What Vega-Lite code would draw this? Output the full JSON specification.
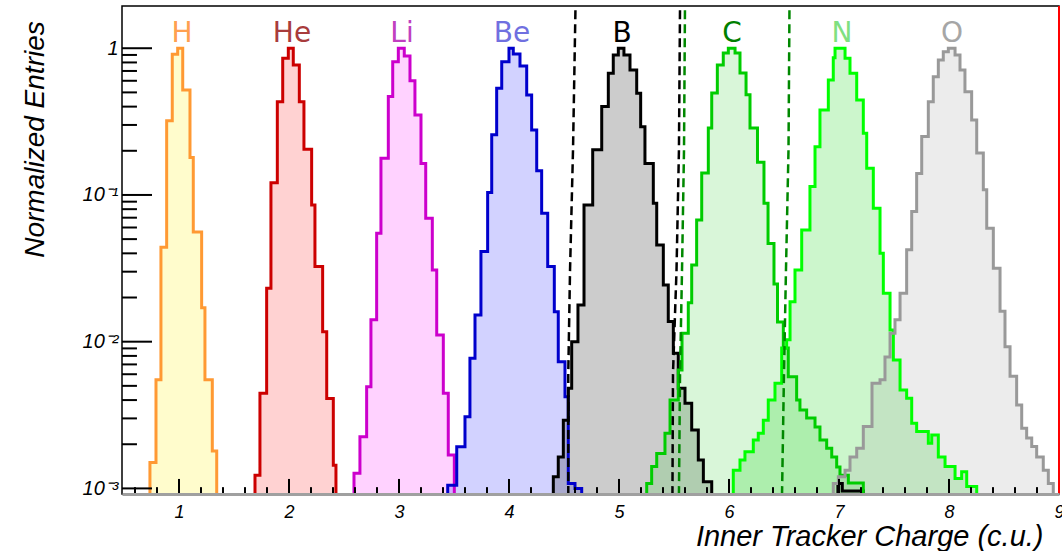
{
  "$schema": "https://vega.github.io/schema/vega-lite/v6.json",
  "width": 937,
  "height": 488,
  "autosize": {"type": "none"},
  "padding": {"left": 122, "top": 6, "right": 3, "bottom": 57},
  "background": "white",
  "config": {
    "view": {"stroke": "#000000", "strokeWidth": 1.5},
    "axis": {"grid": false}
  },
  "datasets": {
    "hist": [
      {"e":"H","x":0.686,"y":0.0009},{"e":"H","x":0.736,"y":0.0015},{"e":"H","x":0.791,"y":0.0055},{"e":"H","x":0.836,"y":0.044},{"e":"H","x":0.888,"y":0.32},{"e":"H","x":0.939,"y":0.91},{"e":"H","x":0.988,"y":1.0},{"e":"H","x":1.034,"y":0.52},{"e":"H","x":1.1,"y":0.18},{"e":"H","x":1.13,"y":0.056},{"e":"H","x":1.206,"y":0.017},{"e":"H","x":1.236,"y":0.0055},{"e":"H","x":1.303,"y":0.0018},{"e":"H","x":1.343,"y":0.0009},
      {"e":"He","x":1.64,"y":0.0009},{"e":"He","x":1.691,"y":0.00123},{"e":"He","x":1.736,"y":0.00445},{"e":"He","x":1.797,"y":0.0231},{"e":"He","x":1.836,"y":0.121},{"e":"He","x":1.894,"y":0.432},{"e":"He","x":1.943,"y":0.855},{"e":"He","x":1.994,"y":1.0},{"e":"He","x":2.039,"y":0.77},{"e":"He","x":2.094,"y":0.432},{"e":"He","x":2.136,"y":0.205},{"e":"He","x":2.206,"y":0.0855},{"e":"He","x":2.236,"y":0.0325},{"e":"He","x":2.306,"y":0.0117},{"e":"He","x":2.343,"y":0.0041},{"e":"He","x":2.403,"y":0.00144},{"e":"He","x":2.427,"y":0.0009},
      {"e":"Li","x":2.54,"y":0.0009},{"e":"Li","x":2.591,"y":0.00127},{"e":"Li","x":2.645,"y":0.00225},{"e":"Li","x":2.706,"y":0.00493},{"e":"Li","x":2.745,"y":0.0141},{"e":"Li","x":2.797,"y":0.0548},{"e":"Li","x":2.836,"y":0.178},{"e":"Li","x":2.903,"y":0.468},{"e":"Li","x":2.943,"y":0.81},{"e":"Li","x":2.994,"y":1.0},{"e":"Li","x":3.048,"y":0.886},{"e":"Li","x":3.1,"y":0.601},{"e":"Li","x":3.145,"y":0.351},{"e":"Li","x":3.2,"y":0.164},{"e":"Li","x":3.243,"y":0.0694},{"e":"Li","x":3.303,"y":0.0308},{"e":"Li","x":3.343,"y":0.0111},{"e":"Li","x":3.403,"y":0.00445},{"e":"Li","x":3.448,"y":0.00169},{"e":"Li","x":3.503,"y":0.0009},
      {"e":"Be","x":3.39,"y":0.0009},{"e":"Be","x":3.443,"y":0.00105},{"e":"Be","x":3.525,"y":0.00192},{"e":"Be","x":3.6,"y":0.00308},{"e":"Be","x":3.645,"y":0.0077},{"e":"Be","x":3.691,"y":0.0152},{"e":"Be","x":3.745,"y":0.0411},{"e":"Be","x":3.806,"y":0.104},{"e":"Be","x":3.843,"y":0.257},{"e":"Be","x":3.888,"y":0.533},{"e":"Be","x":3.934,"y":0.81},{"e":"Be","x":4.0,"y":1.0},{"e":"Be","x":4.039,"y":0.914},{"e":"Be","x":4.1,"y":0.758},{"e":"Be","x":4.161,"y":0.48},{"e":"Be","x":4.206,"y":0.277},{"e":"Be","x":4.252,"y":0.146},{"e":"Be","x":4.297,"y":0.075},{"e":"Be","x":4.352,"y":0.0325},{"e":"Be","x":4.412,"y":0.016},{"e":"Be","x":4.448,"y":0.0073},{"e":"Be","x":4.509,"y":0.00422},{"e":"Be","x":4.539,"y":0.00108},{"e":"Be","x":4.6,"y":0.001},{"e":"Be","x":4.661,"y":0.0009},
      {"e":"B","x":4.35,"y":0.0009},{"e":"B","x":4.403,"y":0.0012},{"e":"B","x":4.448,"y":0.00164},{"e":"B","x":4.494,"y":0.00292},{"e":"B","x":4.539,"y":0.00481},{"e":"B","x":4.57,"y":0.01},{"e":"B","x":4.627,"y":0.0178},{"e":"B","x":4.682,"y":0.0855},{"e":"B","x":4.761,"y":0.203},{"e":"B","x":4.843,"y":0.4},{"e":"B","x":4.903,"y":0.676},{"e":"B","x":4.948,"y":0.9},{"e":"B","x":4.994,"y":1.0},{"e":"B","x":5.045,"y":0.9},{"e":"B","x":5.1,"y":0.711},{"e":"B","x":5.161,"y":0.493},{"e":"B","x":5.197,"y":0.292},{"e":"B","x":5.236,"y":0.164},{"e":"B","x":5.312,"y":0.0878},{"e":"B","x":5.343,"y":0.0456},{"e":"B","x":5.403,"y":0.0243},{"e":"B","x":5.448,"y":0.0137},{"e":"B","x":5.494,"y":0.00834},{"e":"B","x":5.539,"y":0.00481},{"e":"B","x":5.6,"y":0.0038},{"e":"B","x":5.661,"y":0.0025},{"e":"B","x":5.721,"y":0.00156},{"e":"B","x":5.767,"y":0.00111},{"e":"B","x":5.843,"y":0.0009},{"e":"B","x":6.99,"y":0.00108},{"e":"B","x":7.03,"y":0.00096},{"e":"B","x":7.221,"y":0.0009},
      {"e":"C","x":5.2,"y":0.0009},{"e":"C","x":5.252,"y":0.00108},{"e":"C","x":5.297,"y":0.00141},{"e":"C","x":5.343,"y":0.00173},{"e":"C","x":5.418,"y":0.00238},{"e":"C","x":5.464,"y":0.004},{"e":"C","x":5.539,"y":0.0064},{"e":"C","x":5.573,"y":0.0114},{"e":"C","x":5.63,"y":0.0184},{"e":"C","x":5.661,"y":0.0333},{"e":"C","x":5.706,"y":0.0676},{"e":"C","x":5.752,"y":0.141},{"e":"C","x":5.812,"y":0.286},{"e":"C","x":5.843,"y":0.496},{"e":"C","x":5.894,"y":0.769},{"e":"C","x":5.948,"y":0.929},{"e":"C","x":5.994,"y":1.0},{"e":"C","x":6.055,"y":0.929},{"e":"C","x":6.1,"y":0.679},{"e":"C","x":6.155,"y":0.481},{"e":"C","x":6.191,"y":0.286},{"e":"C","x":6.259,"y":0.167},{"e":"C","x":6.318,"y":0.0878},{"e":"C","x":6.355,"y":0.0467},{"e":"C","x":6.409,"y":0.0247},{"e":"C","x":6.441,"y":0.0136},{"e":"C","x":6.494,"y":0.00906},{"e":"C","x":6.539,"y":0.00577},{"e":"C","x":6.615,"y":0.004},{"e":"C","x":6.645,"y":0.00342},{"e":"C","x":6.706,"y":0.00302},{"e":"C","x":6.782,"y":0.00262},{"e":"C","x":6.827,"y":0.00214},{"e":"C","x":6.888,"y":0.00188},{"e":"C","x":6.934,"y":0.00164},{"e":"C","x":6.979,"y":0.0014},{"e":"C","x":7.009,"y":0.00123},{"e":"C","x":7.085,"y":0.00109},{"e":"C","x":7.221,"y":0.0009},
      {"e":"N","x":5.99,"y":0.0009},{"e":"N","x":6.039,"y":0.00133},{"e":"N","x":6.1,"y":0.00156},{"e":"N","x":6.145,"y":0.00178},{"e":"N","x":6.221,"y":0.00214},{"e":"N","x":6.266,"y":0.00238},{"e":"N","x":6.312,"y":0.00292},{"e":"N","x":6.357,"y":0.004},{"e":"N","x":6.418,"y":0.0052},{"e":"N","x":6.479,"y":0.00906},{"e":"N","x":6.524,"y":0.0103},{"e":"N","x":6.555,"y":0.0187},{"e":"N","x":6.6,"y":0.0308},{"e":"N","x":6.661,"y":0.0577},{"e":"N","x":6.736,"y":0.114},{"e":"N","x":6.782,"y":0.213},{"e":"N","x":6.827,"y":0.38},{"e":"N","x":6.903,"y":0.608},{"e":"N","x":6.948,"y":0.86},{"e":"N","x":6.964,"y":1.0},{"e":"N","x":7.055,"y":0.855},{"e":"N","x":7.1,"y":0.675},{"e":"N","x":7.161,"y":0.444},{"e":"N","x":7.221,"y":0.263},{"e":"N","x":7.252,"y":0.152},{"e":"N","x":7.312,"y":0.0812},{"e":"N","x":7.373,"y":0.0401},{"e":"N","x":7.403,"y":0.0214},{"e":"N","x":7.464,"y":0.012},{"e":"N","x":7.494,"y":0.0075},{"e":"N","x":7.555,"y":0.00469},{"e":"N","x":7.615,"y":0.00411},{"e":"N","x":7.661,"y":0.00278},{"e":"N","x":7.706,"y":0.00244},{"e":"N","x":7.812,"y":0.00203},{"e":"N","x":7.843,"y":0.00231},{"e":"N","x":7.903,"y":0.00164},{"e":"N","x":7.964,"y":0.00141},{"e":"N","x":8.055,"y":0.00117},{"e":"N","x":8.115,"y":0.0013},{"e":"N","x":8.161,"y":0.00103},{"e":"N","x":8.252,"y":0.0009},
      {"e":"O","x":6.9,"y":0.0009},{"e":"O","x":6.948,"y":0.00108},{"e":"O","x":6.994,"y":0.0012},{"e":"O","x":7.055,"y":0.00133},{"e":"O","x":7.1,"y":0.00164},{"e":"O","x":7.161,"y":0.00188},{"e":"O","x":7.221,"y":0.00264},{"e":"O","x":7.3,"y":0.0052},{"e":"O","x":7.373,"y":0.0055},{"e":"O","x":7.418,"y":0.00787},{"e":"O","x":7.464,"y":0.0114},{"e":"O","x":7.509,"y":0.0141},{"e":"O","x":7.555,"y":0.0214},{"e":"O","x":7.615,"y":0.0424},{"e":"O","x":7.661,"y":0.077},{"e":"O","x":7.706,"y":0.14},{"e":"O","x":7.752,"y":0.25},{"e":"O","x":7.812,"y":0.432},{"e":"O","x":7.857,"y":0.64},{"e":"O","x":7.903,"y":0.832},{"e":"O","x":7.948,"y":0.948},{"e":"O","x":7.994,"y":1.0},{"e":"O","x":8.055,"y":0.9},{"e":"O","x":8.1,"y":0.711},{"e":"O","x":8.145,"y":0.506},{"e":"O","x":8.206,"y":0.324},{"e":"O","x":8.252,"y":0.193},{"e":"O","x":8.312,"y":0.1085},{"e":"O","x":8.343,"y":0.0594},{"e":"O","x":8.403,"y":0.0317},{"e":"O","x":8.464,"y":0.0161},{"e":"O","x":8.509,"y":0.00925},{"e":"O","x":8.555,"y":0.00581},{"e":"O","x":8.615,"y":0.0037},{"e":"O","x":8.661,"y":0.00257},{"e":"O","x":8.706,"y":0.00221},{"e":"O","x":8.752,"y":0.00193},{"e":"O","x":8.797,"y":0.00164},{"e":"O","x":8.857,"y":0.00133},{"e":"O","x":8.903,"y":0.00108},{"e":"O","x":8.948,"y":0.0009}
    ],
    "cuts": [
      {"c":"k1","x":4.605,"y":2.0},{"c":"k1","x":4.582,"y":0.203},{"c":"k1","x":4.555,"y":0.0308},{"c":"k1","x":4.539,"y":0.00612},{"c":"k1","x":4.539,"y":0.0009},
      {"c":"k2","x":5.555,"y":2.0},{"c":"k2","x":5.545,"y":0.203},{"c":"k2","x":5.523,"y":0.0308},{"c":"k2","x":5.491,"y":0.00612},{"c":"k2","x":5.486,"y":0.0009},
      {"c":"g1","x":5.6,"y":2.0},{"c":"g1","x":5.591,"y":0.203},{"c":"g1","x":5.573,"y":0.0308},{"c":"g1","x":5.555,"y":0.00612},{"c":"g1","x":5.545,"y":0.0009},
      {"c":"g2","x":6.55,"y":2.0},{"c":"g2","x":6.541,"y":0.203},{"c":"g2","x":6.518,"y":0.0308},{"c":"g2","x":6.5,"y":0.00612},{"c":"g2","x":6.482,"y":0.0009}
    ],
    "labels": [
      {"e":"H","z":1},{"e":"He","z":2},{"e":"Li","z":3},{"e":"Be","z":4},{"e":"B","z":5},{"e":"C","z":6},{"e":"N","z":7},{"e":"O","z":8}
    ],
    "yticks": [
      {"v":0.001,"k":"major"},{"v":0.01,"k":"major"},{"v":0.1,"k":"major"},{"v":1,"k":"major"},
      {"v":0.002,"k":"minor"},{"v":0.003,"k":"minor"},{"v":0.004,"k":"minor"},{"v":0.005,"k":"minor"},{"v":0.006,"k":"minor"},{"v":0.007,"k":"minor"},{"v":0.008,"k":"minor"},{"v":0.009,"k":"minor"},
      {"v":0.02,"k":"minor"},{"v":0.03,"k":"minor"},{"v":0.04,"k":"minor"},{"v":0.05,"k":"minor"},{"v":0.06,"k":"minor"},{"v":0.07,"k":"minor"},{"v":0.08,"k":"minor"},{"v":0.09,"k":"minor"},
      {"v":0.2,"k":"minor"},{"v":0.3,"k":"minor"},{"v":0.4,"k":"minor"},{"v":0.5,"k":"minor"},{"v":0.6,"k":"minor"},{"v":0.7,"k":"minor"},{"v":0.8,"k":"minor"},{"v":0.9,"k":"minor"}
    ],
    "xticks": [
      {"v":1,"k":"major"},{"v":2,"k":"major"},{"v":3,"k":"major"},{"v":4,"k":"major"},{"v":5,"k":"major"},{"v":6,"k":"major"},{"v":7,"k":"major"},{"v":8,"k":"major"},{"v":9,"k":"major"},
      {"v":0.6,"k":"minor"},{"v":0.8,"k":"minor"},{"v":1.2,"k":"minor"},{"v":1.4,"k":"minor"},{"v":1.6,"k":"minor"},{"v":1.8,"k":"minor"},{"v":2.2,"k":"minor"},{"v":2.4,"k":"minor"},{"v":2.6,"k":"minor"},{"v":2.8,"k":"minor"},
      {"v":3.2,"k":"minor"},{"v":3.4,"k":"minor"},{"v":3.6,"k":"minor"},{"v":3.8,"k":"minor"},{"v":4.2,"k":"minor"},{"v":4.4,"k":"minor"},{"v":4.6,"k":"minor"},{"v":4.8,"k":"minor"},
      {"v":5.2,"k":"minor"},{"v":5.4,"k":"minor"},{"v":5.6,"k":"minor"},{"v":5.8,"k":"minor"},{"v":6.2,"k":"minor"},{"v":6.4,"k":"minor"},{"v":6.6,"k":"minor"},{"v":6.8,"k":"minor"},
      {"v":7.2,"k":"minor"},{"v":7.4,"k":"minor"},{"v":7.6,"k":"minor"},{"v":7.8,"k":"minor"},{"v":8.2,"k":"minor"},{"v":8.4,"k":"minor"},{"v":8.6,"k":"minor"},{"v":8.8,"k":"minor"}
    ]
  },
  "layer": [
    {
      "data": {"name": "hist"},
      "mark": {"type": "area", "interpolate": "step-after", "clip": true, "fillOpacity": 0.2},
      "encoding": {
        "x": {
          "field": "x", "type": "quantitative",
          "scale": {"domain": [0.482, 9], "nice": false, "zero": false},
          "axis": {
            "orient": "bottom", "values": [1,2,3,4,5,6,7,8,9], "format": "d",
            "ticks": true, "tickSize": 0, "tickOpacity": 0,
            "labelPadding": 9, "labelFont": "Liberation Sans", "labelFontStyle": "italic", "labelFontSize": 18, "labelColor": "#000000",
            "labelFlush": false, "labelOverlap": false,
            "domain": true, "domainColor": "#a0a0a0", "domainWidth": 3,
            "title": "Inner Tracker Charge (c.u.)", "titleFont": "Liberation Sans", "titleFontStyle": "italic", "titleFontWeight": "normal",
            "titleFontSize": 29, "titleColor": "#000000", "titleAlign": "right", "titleAnchor": null, "titleX": 921, "titleY": 51, "titleBaseline": "alphabetic",
            "zindex": 1
          }
        },
        "y": {
          "field": "y", "type": "quantitative",
          "scale": {"type": "log", "domain": [0.000916, 1.94], "nice": false},
          "axis": {
            "orient": "left", "values": [0.001, 0.01, 0.1, 1],
            "ticks": true, "tickSize": 0, "tickOpacity": 0,
            "labelPadding": 4, "labelFont": "Liberation Sans", "labelFontStyle": "italic", "labelFontSize": 20, "labelColor": "#000000",
            "labelExpr": "datum.value >= 0.5 ? '1' : datum.value >= 0.05 ? '10⁻¹' : datum.value >= 0.005 ? '10⁻²' : '10⁻³'",
            "labelOverlap": false, "labelFlush": false,
            "domain": false,
            "title": "Normalized Entries", "titleFont": "Liberation Sans", "titleFontStyle": "italic", "titleFontWeight": "normal",
            "titleFontSize": 28, "titleColor": "#000000", "titleAngle": 270, "titleAlign": "center", "titleAnchor": null, "titleX": -79, "titleY": 133, "titleBaseline": "alphabetic",
            "zindex": 1
          }
        },
        "y2": {"datum": 0.0009},
        "fill": {
          "field": "e", "type": "nominal", "legend": null,
          "scale": {"domain": ["H","He","Li","Be","B","C","N","O"], "range": ["#ffee00","#ff2020","#ff20ff","#2020ff","#000000","#40d040","#00d000","#a0a0a0"]}
        }
      }
    },
    {
      "data": {"name": "hist"},
      "mark": {"type": "line", "interpolate": "step-after", "clip": true, "strokeWidth": 3, "strokeJoin": "miter"},
      "encoding": {
        "x": {"field": "x", "type": "quantitative"},
        "y": {"field": "y", "type": "quantitative"},
        "stroke": {
          "field": "e", "type": "nominal", "legend": null,
          "scale": {"domain": ["H","He","Li","Be","B","C","N","O","k1","k2","g1","g2"], "range": ["#ff9933","#cc0000","#cc00cc","#0000cc","#000000","#00cc00","#00ff00","#999999","#000000","#000000","#008800","#008800"]}
        }
      }
    },
    {
      "data": {"name": "cuts"},
      "mark": {"type": "line", "clip": true, "strokeWidth": 2.5, "strokeDash": [9, 5]},
      "encoding": {
        "x": {"field": "x", "type": "quantitative"},
        "y": {"field": "y", "type": "quantitative"},
        "order": {"field": "y", "type": "quantitative"},
        "stroke": {
          "field": "c", "type": "nominal", "legend": null,
          "scale": {"domain": ["H","He","Li","Be","B","C","N","O","k1","k2","g1","g2"], "range": ["#ff9933","#cc0000","#cc00cc","#0000cc","#000000","#00cc00","#00ff00","#999999","#000000","#000000","#008800","#008800"]}
        }
      }
    },
    {
      "data": {"name": "yticks"},
      "transform": [{"filter": "datum.k == 'major'"}],
      "mark": {"type": "rule", "strokeWidth": 2, "color": "#000000", "clip": true},
      "encoding": {
        "x": {"datum": 0.482},
        "x2": {"datum": 0.755},
        "y": {"field": "v", "type": "quantitative"}
      }
    },
    {
      "data": {"name": "yticks"},
      "transform": [{"filter": "datum.k == 'minor'"}],
      "mark": {"type": "rule", "strokeWidth": 2, "color": "#000000", "clip": true},
      "encoding": {
        "x": {"datum": 0.482},
        "x2": {"datum": 0.618},
        "y": {"field": "v", "type": "quantitative"}
      }
    },
    {
      "data": {"name": "xticks"},
      "transform": [{"filter": "datum.k == 'major'"}],
      "mark": {"type": "rule", "strokeWidth": 2, "color": "#000000", "clip": true},
      "encoding": {
        "x": {"field": "v", "type": "quantitative"},
        "y": {"datum": 0.000916},
        "y2": {"datum": 0.00116}
      }
    },
    {
      "data": {"name": "xticks"},
      "transform": [{"filter": "datum.k == 'minor'"}],
      "mark": {"type": "rule", "strokeWidth": 2, "color": "#000000", "clip": true},
      "encoding": {
        "x": {"field": "v", "type": "quantitative"},
        "y": {"datum": 0.000916},
        "y2": {"datum": 0.00102}
      }
    },
    {
      "data": {"name": "labels"},
      "mark": {"type": "text", "font": "DejaVu Sans", "fontSize": 28, "fontWeight": "normal", "align": "center", "baseline": "alphabetic", "dx": 3},
      "encoding": {
        "x": {"field": "z", "type": "quantitative"},
        "y": {"datum": 1.104},
        "text": {"field": "e"},
        "color": {
          "field": "e", "type": "nominal", "legend": null,
          "scale": {"domain": ["H","He","Li","Be","B","C","N","O"], "range": ["#ffa050","#a83c3c","#c040c0","#7070e0","#000000","#007f00","#80e080","#a6a6a6"]}
        }
      }
    },
    {
      "data": {"values": [{}]},
      "mark": {"type": "rule", "color": "#ff0000", "strokeWidth": 2},
      "encoding": {"x": {"datum": 9}}
    }
  ]
}
